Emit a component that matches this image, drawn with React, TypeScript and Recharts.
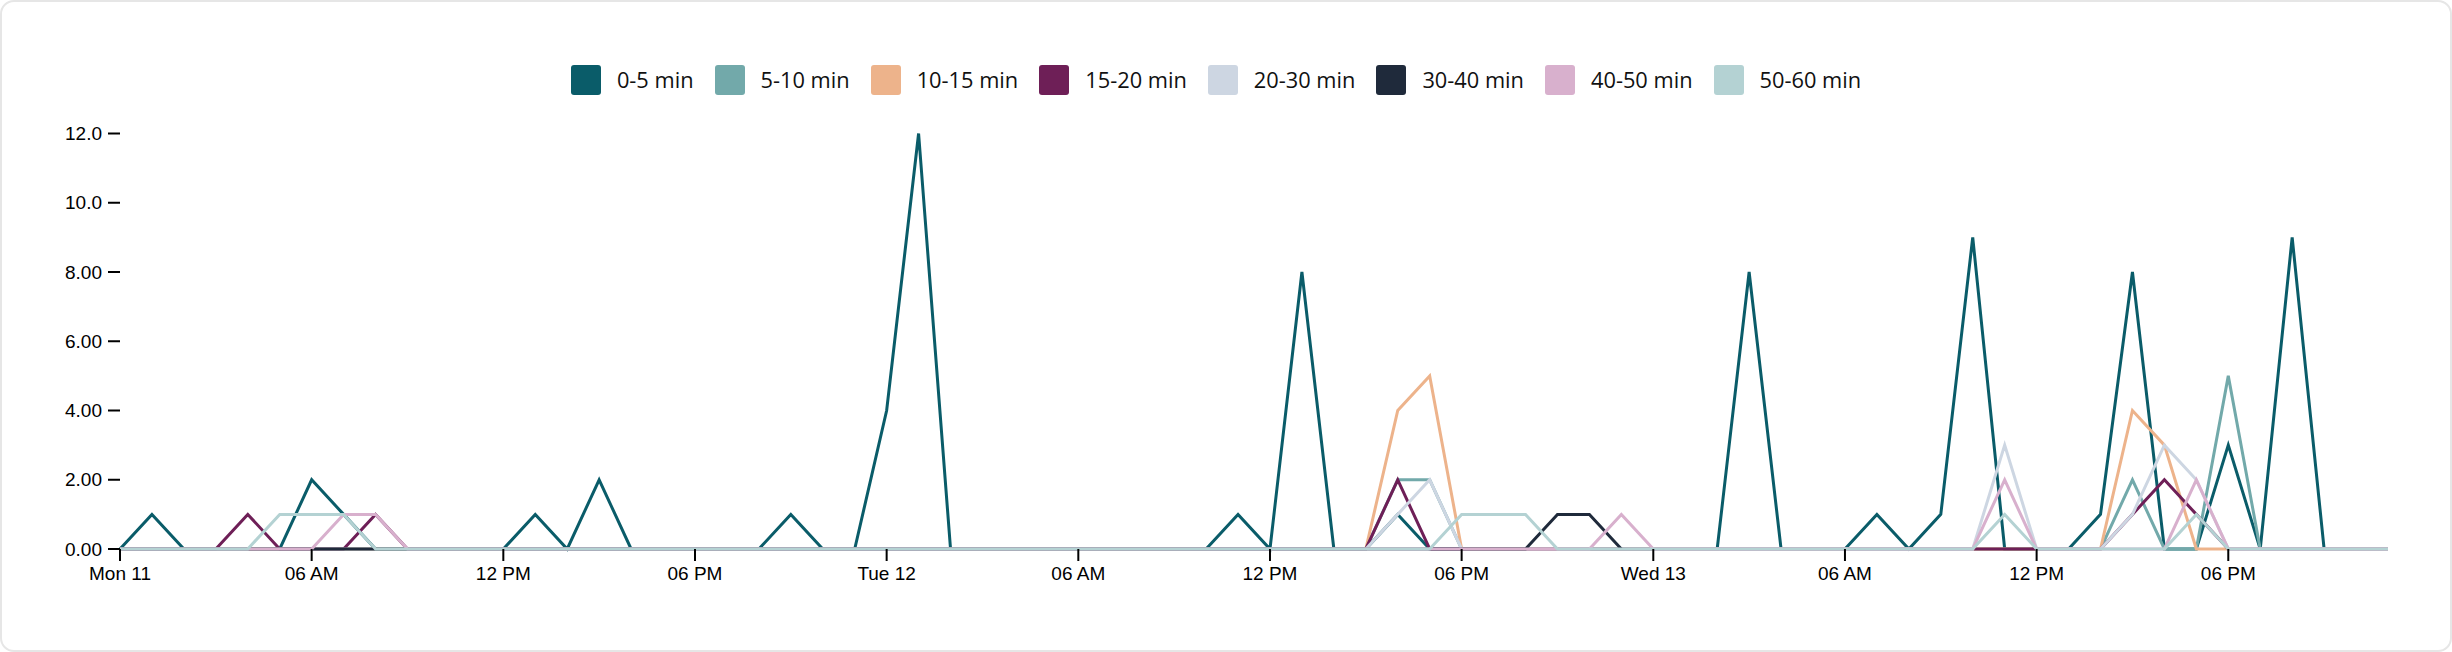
import React from "react";
import { LineChart, Line, XAxis, YAxis } from "recharts";

// hourly buckets, Mon 11 00:00 -> Wed 13 23:00
const hours = Array.from({ length: 72 }, (_, i) => i);

const tickHours = [0, 6, 12, 18, 24, 30, 36, 42, 48, 54, 60, 66];
const tickLabels = [
  "Mon 11", "06 AM", "12 PM", "06 PM",
  "Tue 12", "06 AM", "12 PM", "06 PM",
  "Wed 13", "06 AM", "12 PM", "06 PM",
];
const yTicks = [0, 2, 4, 6, 8, 10, 12];

const series = [
  "0-5 min", "5-10 min", "10-15 min", "15-20 min",
  "20-30 min", "30-40 min", "40-50 min", "50-60 min",
];
const colors = [
  "#0a5c69", "#72a9aa", "#edb38b", "#6e1f57",
  "#cdd6e2", "#1f2a3b", "#d8b0cd", "#b4d2d3",
];

const min0to5 = [
  0, 1, 0, 0, 0, 0, 2, 1, 0, 0, 0, 0, 0, 1, 0, 2, 0, 0, 0, 0, 0, 1, 0, 0,
  4, 12, 0, 0, 0, 0, 0, 0, 0, 0, 0, 1, 0, 8, 0, 0, 1, 0, 0, 0, 0, 0, 0, 0,
  0, 0, 0, 8, 0, 0, 0, 1, 0, 1, 9, 0, 0, 0, 1, 8, 0, 0, 3, 0, 9, 0, 0, 0,
];
const min5to10 = [
  0, 0, 0, 0, 0, 0, 0, 0, 0, 0, 0, 0, 0, 0, 0, 0, 0, 0, 0, 0, 0, 0, 0, 0,
  0, 0, 0, 0, 0, 0, 0, 0, 0, 0, 0, 0, 0, 0, 0, 0, 2, 2, 0, 0, 0, 0, 0, 0,
  0, 0, 0, 0, 0, 0, 0, 0, 0, 0, 0, 0, 0, 0, 0, 2, 0, 0, 5, 0, 0, 0, 0, 0,
];
const min10to15 = [
  0, 0, 0, 0, 0, 0, 0, 0, 0, 0, 0, 0, 0, 0, 0, 0, 0, 0, 0, 0, 0, 0, 0, 0,
  0, 0, 0, 0, 0, 0, 0, 0, 0, 0, 0, 0, 0, 0, 0, 0, 4, 5, 0, 0, 0, 0, 0, 0,
  0, 0, 0, 0, 0, 0, 0, 0, 0, 0, 0, 0, 0, 0, 0, 4, 3, 0, 0, 0, 0, 0, 0, 0,
];
const min15to20 = [
  0, 0, 0, 0, 1, 0, 0, 0, 1, 0, 0, 0, 0, 0, 0, 0, 0, 0, 0, 0, 0, 0, 0, 0,
  0, 0, 0, 0, 0, 0, 0, 0, 0, 0, 0, 0, 0, 0, 0, 0, 2, 0, 0, 0, 0, 0, 0, 0,
  0, 0, 0, 0, 0, 0, 0, 0, 0, 0, 0, 0, 0, 0, 0, 1, 2, 1, 0, 0, 0, 0, 0, 0,
];
const min20to30 = [
  0, 0, 0, 0, 0, 0, 0, 0, 0, 0, 0, 0, 0, 0, 0, 0, 0, 0, 0, 0, 0, 0, 0, 0,
  0, 0, 0, 0, 0, 0, 0, 0, 0, 0, 0, 0, 0, 0, 0, 0, 1, 2, 0, 0, 0, 0, 0, 0,
  0, 0, 0, 0, 0, 0, 0, 0, 0, 0, 0, 3, 0, 0, 0, 1, 3, 2, 0, 0, 0, 0, 0, 0,
];
// no 30-40 records on Wed
const min30to40 = [
  0, 0, 0, 0, 0, 0, 0, 0, 0, 0, 0, 0, 0, 0, 0, 0, 0, 0, 0, 0, 0, 0, 0, 0,
  0, 0, 0, 0, 0, 0, 0, 0, 0, 0, 0, 0, 0, 0, 0, 0, 0, 0, 0, 0, 0, 1, 1, 0,
  null, null, null, null, null, null, null, null, null, null, null, null,
  null, null, null, null, null, null, null, null, null, null, null, null,
];
const min40to50 = [
  0, 0, 0, 0, 0, 0, 0, 1, 1, 0, 0, 0, 0, 0, 0, 0, 0, 0, 0, 0, 0, 0, 0, 0,
  0, 0, 0, 0, 0, 0, 0, 0, 0, 0, 0, 0, 0, 0, 0, 0, 0, 0, 0, 0, 0, 0, 0, 1,
  0, 0, 0, 0, 0, 0, 0, 0, 0, 0, 0, 2, 0, 0, 0, 0, 0, 2, 0, 0, 0, 0, 0, 0,
];
const min50to60 = [
  0, 0, 0, 0, 0, 1, 1, 1, 0, 0, 0, 0, 0, 0, 0, 0, 0, 0, 0, 0, 0, 0, 0, 0,
  0, 0, 0, 0, 0, 0, 0, 0, 0, 0, 0, 0, 0, 0, 0, 0, 0, 0, 1, 1, 1, 0, 0, 0,
  0, 0, 0, 0, 0, 0, 0, 0, 0, 0, 0, 1, 0, 0, 0, 0, 0, 1, 0, 0, 0, 0, 0, 0,
];

const values = [
  min0to5, min5to10, min10to15, min15to20,
  min20to30, min30to40, min40to50, min50to60,
];

const data = hours.map((h) => {
  const row: Record<string, number | null> = { hour: h };
  series.forEach((name, i) => {
    row[name] = values[i][h];
  });
  return row;
});

const axisFont = "'Liberation Sans', Arial, Helvetica, sans-serif";
const legendFont = "'Open Sans', 'Noto Sans', sans-serif";

function ChartLegend() {
  return (
    <div
      style={{
        position: "absolute",
        top: 65,
        left: 0,
        width: 2432,
        display: "flex",
        justifyContent: "center",
        alignItems: "center",
        gap: 21,
        fontFamily: legendFont,
        fontSize: 21.8,
        color: "#111",
      }}
    >
      {series.map((name, i) => (
        <div key={name} style={{ display: "flex", alignItems: "center", height: 30 }}>
          <span
            style={{
              width: 30,
              height: 30,
              borderRadius: 3,
              background: colors[i],
              marginRight: 16,
              display: "inline-block",
            }}
          />
          <span style={{ lineHeight: "30px" }}>{name}</span>
        </div>
      ))}
    </div>
  );
}

export default function App() {
  return (
    <div style={{ position: "relative", width: 2452, height: 652, background: "#fff" }}>
      <style>{"body{margin:0}"}</style>
      <LineChart
        width={2452}
        height={652}
        data={data}
        margin={{ top: 133.5, right: 64, bottom: 63, left: 0 }}
      >
        <XAxis
          dataKey="hour"
          type="number"
          domain={[0, 71]}
          ticks={tickHours}
          tickFormatter={(v: number) => tickLabels[tickHours.indexOf(v)]}
          axisLine={false}
          tickLine={{ stroke: "#000", strokeWidth: 2 }}
          tickSize={12}
          tickMargin={6}
          height={40}
          tick={{ fill: "#000", fontSize: 19, fontFamily: axisFont }}
          interval={0}
        />
        <YAxis
          domain={[0, 12]}
          ticks={yTicks}
          tickFormatter={(v: number) => v.toPrecision(3)}
          axisLine={false}
          tickLine={{ stroke: "#000", strokeWidth: 2 }}
          tickSize={12}
          tickMargin={6}
          width={120}
          tick={{ fill: "#000", fontSize: 19, fontFamily: axisFont }}
          interval={0}
        />
        {series.map((name, i) => (
          <Line
            key={name}
            type="linear"
            dataKey={name}
            stroke={colors[i]}
            strokeWidth={3}
            dot={false}
            activeDot={false}
            isAnimationActive={false}
          />
        ))}
      </LineChart>
      <ChartLegend />
      <div
        style={{
          position: "absolute",
          inset: 0,
          border: "2px solid #e6e6e6",
          borderRadius: 14,
          boxSizing: "border-box",
          pointerEvents: "none",
        }}
      />
    </div>
  );
}
